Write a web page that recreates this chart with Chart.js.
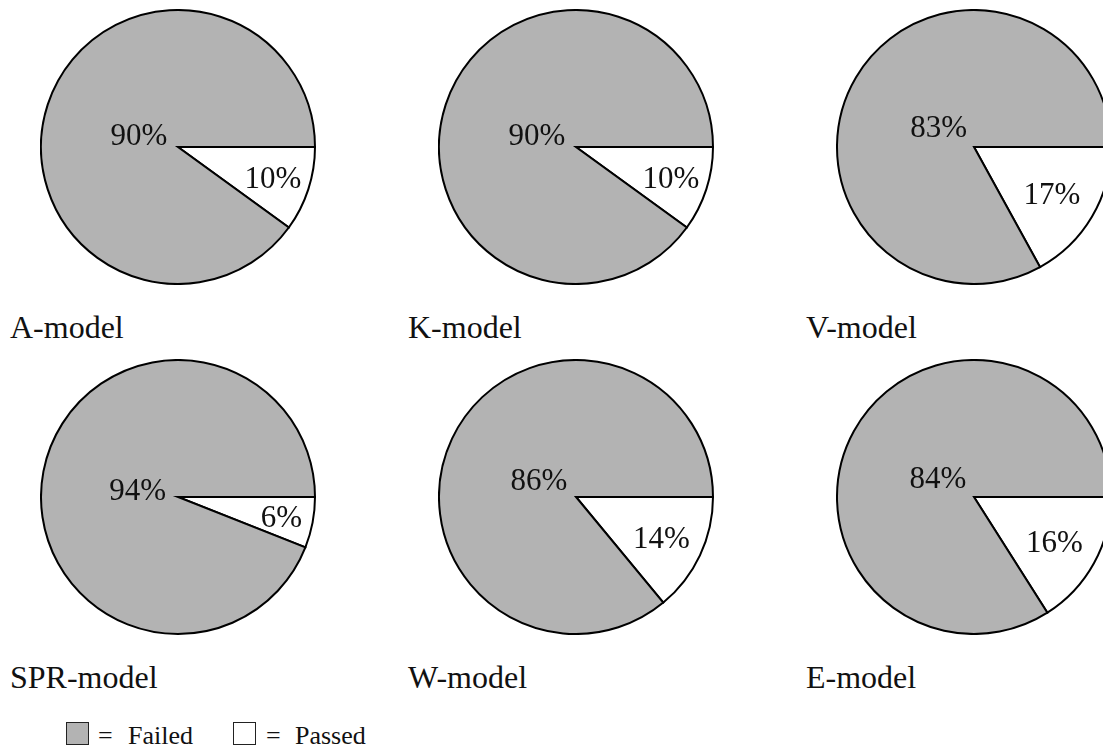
<!DOCTYPE html>
<html>
<head>
<meta charset="utf-8">
<script src="https://cdn.jsdelivr.net/npm/chart.js@4.4.1/dist/chart.umd.min.js"></script>
<style>
  html, body { margin: 0; padding: 0; background: #fff; }
  body { width: 1103px; height: 747px; position: relative; overflow: hidden;
         font-family: "Liberation Serif", "Times New Roman", serif; color: #111; }
  canvas { position: absolute; }
  .title { position: absolute; font-size: 32px; line-height: 32px; white-space: nowrap; }
  .legend { position: absolute; font-size: 26px; line-height: 26px; white-space: nowrap; }
  .sw { position: absolute; width: 23px; height: 23px; box-sizing: border-box; border: 1.2px solid #222; }
</style>
</head>
<body>
<script>
// ---- data ----
const models = ["A-model", "K-model", "V-model", "SPR-model", "W-model", "E-model"];
const failed = [90, 90, 83, 94, 86, 84];
const passed = [10, 10, 17, 6, 14, 16];
const seriesNames = ["Passed", "Failed"];
const seriesColors = ["#ffffff", "#b3b3b3"];

// ---- layout ----
const R = 137;
const SIZE = 2 * R + 2;
const colX = [178, 576, 974];
const rowY = [147, 497];
const titleX = [10, 408, 806];

const labelPlugin = {
  id: 'sliceLabels',
  afterDatasetsDraw(chart) {
    const ctx = chart.ctx;
    const meta = chart.getDatasetMeta(0);
    const values = chart.data.datasets[0].data;
    ctx.save();
    ctx.font = '31px "Liberation Serif", serif';
    ctx.fillStyle = '#111';
    ctx.textAlign = 'center';
    ctx.textBaseline = 'alphabetic';
    meta.data.forEach((arc, i) => {
      const p = arc.getProps(['x', 'y', 'startAngle', 'endAngle', 'outerRadius'], true);
      const mid = (p.startAngle + p.endAngle) / 2;
      const spanDeg = (p.endAngle - p.startAngle) * 180 / Math.PI;
      // label radius like pgf-pie's inner position
      const k = Math.max(Math.min((spanDeg - 10) / 110 * -0.3, 0), -0.5) + 0.8;
      const lx = p.x + Math.cos(mid) * k * p.outerRadius;
      const ly = p.y + Math.sin(mid) * k * p.outerRadius;
      ctx.fillText(values[i] + '%', lx, ly + 10.5);
    });
    ctx.restore();
  }
};

models.forEach((name, i) => {
  const col = i % 3, row = Math.floor(i / 3);
  const cv = document.createElement('canvas');
  cv.width = SIZE; cv.height = SIZE;
  cv.style.left = (colX[col] - SIZE / 2) + 'px';
  cv.style.top = (rowY[row] - SIZE / 2) + 'px';
  document.body.appendChild(cv);
  new Chart(cv, {
    type: 'pie',
    data: {
      labels: seriesNames,
      datasets: [{
        data: [passed[i], failed[i]],
        backgroundColor: seriesColors,
        borderColor: '#000',
        borderWidth: 2,
        borderJoinStyle: 'miter',
        hoverOffset: 0
      }]
    },
    options: {
      responsive: false,
      animation: false,
      rotation: 90,
      layout: { padding: 0 },
      plugins: { legend: { display: false }, tooltip: { enabled: false } },
      events: []
    },
    plugins: [labelPlugin]
  });
  const t = document.createElement('div');
  t.className = 'title';
  t.textContent = name;
  t.style.left = titleX[col] + 'px';
  t.style.top = (311 + row * 350) + 'px';
  document.body.appendChild(t);
});

// legend
function addLegend(swLeft, color, eqLeft, textLeft, label) {
  const s = document.createElement('div');
  s.className = 'sw';
  s.style.left = swLeft + 'px';
  s.style.top = '722px';
  s.style.background = color;
  document.body.appendChild(s);
  const e = document.createElement('div');
  e.className = 'legend';
  e.textContent = '=';
  e.style.left = eqLeft + 'px';
  e.style.top = '723px';
  document.body.appendChild(e);
  const l = document.createElement('div');
  l.className = 'legend';
  l.textContent = label;
  l.style.left = textLeft + 'px';
  l.style.top = '723px';
  document.body.appendChild(l);
}
addLegend(66, seriesColors[1], 98, 128, seriesNames[1]);
addLegend(233, seriesColors[0], 266, 295, seriesNames[0]);
</script>
</body>
</html>
